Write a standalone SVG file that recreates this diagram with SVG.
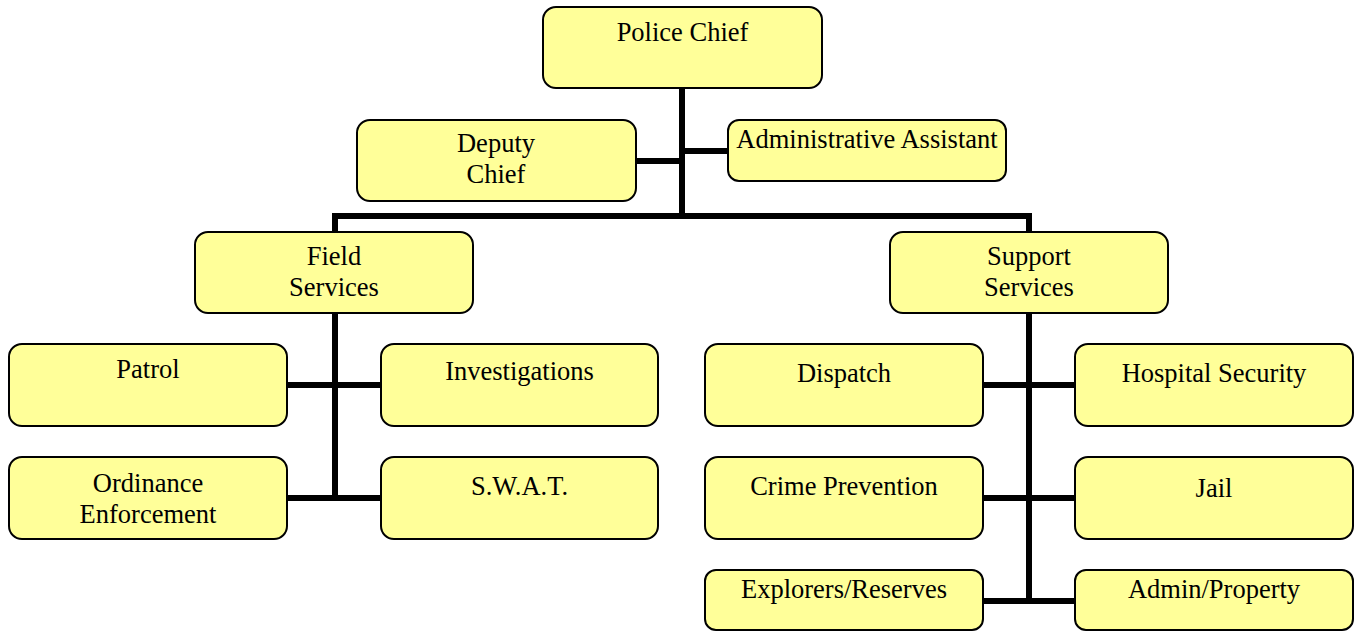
<svg xmlns="http://www.w3.org/2000/svg" width="1355" height="631" viewBox="0 0 1355 631">
<style>
.box{fill:#FFFF99;stroke:#000;stroke-width:2}
.t{font-family:"Liberation Serif","Times New Roman",serif;font-size:26.5px;fill:#000;text-anchor:middle}
.c{stroke:#000;stroke-width:6;fill:none;stroke-linecap:square}
</style>
<rect width="1355" height="631" fill="#fff"/>
<g id="connectors">
<path class="c" d="M682 89V216M335 216H1029M335 216V313M1029 216V313"/>
<path class="c" d="M636 161H682M682 151H728"/>
<path class="c" d="M335 313V498M288 385H380M288 498H380"/>
<path class="c" d="M1029 313V601M984 385H1075M984 498H1075M984 601H1075"/>
</g>
<g id="police-chief"><rect class="box" x="543" y="7" width="279" height="81" rx="13"/><text class="t" x="682.5" y="41">Police Chief</text></g>
<g id="deputy-chief"><rect class="box" x="357" y="120" width="279" height="81" rx="13"/><text class="t" x="496" y="152">Deputy</text><text class="t" x="496" y="183">Chief</text></g>
<g id="admin-assistant"><rect class="box" x="728" y="120" width="278" height="61" rx="11"/><text class="t" x="867" y="148">Administrative Assistant</text></g>
<g id="field-services"><rect class="box" x="195" y="232" width="278" height="81" rx="13"/><text class="t" x="334" y="265">Field</text><text class="t" x="334" y="296">Services</text></g>
<g id="support-services"><rect class="box" x="890" y="232" width="278" height="81" rx="13"/><text class="t" x="1029" y="265">Support</text><text class="t" x="1029" y="296">Services</text></g>
<g id="patrol"><rect class="box" x="9" y="344" width="278" height="82" rx="13"/><text class="t" x="148" y="378">Patrol</text></g>
<g id="investigations"><rect class="box" x="381" y="344" width="277" height="82" rx="13"/><text class="t" x="519.5" y="380">Investigations</text></g>
<g id="ordinance-enforcement"><rect class="box" x="9" y="457" width="278" height="82" rx="13"/><text class="t" x="148" y="492">Ordinance</text><text class="t" x="148" y="523">Enforcement</text></g>
<g id="swat"><rect class="box" x="381" y="457" width="277" height="82" rx="13"/><text class="t" x="519.5" y="495">S.W.A.T.</text></g>
<g id="dispatch"><rect class="box" x="705" y="344" width="278" height="82" rx="13"/><text class="t" x="844" y="382">Dispatch</text></g>
<g id="hospital-security"><rect class="box" x="1075" y="344" width="278" height="82" rx="13"/><text class="t" x="1214" y="382">Hospital Security</text></g>
<g id="crime-prevention"><rect class="box" x="705" y="457" width="278" height="82" rx="13"/><text class="t" x="844" y="495">Crime Prevention</text></g>
<g id="jail"><rect class="box" x="1075" y="457" width="278" height="82" rx="13"/><text class="t" x="1214" y="497">Jail</text></g>
<g id="explorers-reserves"><rect class="box" x="705" y="570" width="278" height="60" rx="11"/><text class="t" x="844" y="598">Explorers/Reserves</text></g>
<g id="admin-property"><rect class="box" x="1075" y="570" width="278" height="60" rx="11"/><text class="t" x="1214" y="598">Admin/Property</text></g>
</svg>
